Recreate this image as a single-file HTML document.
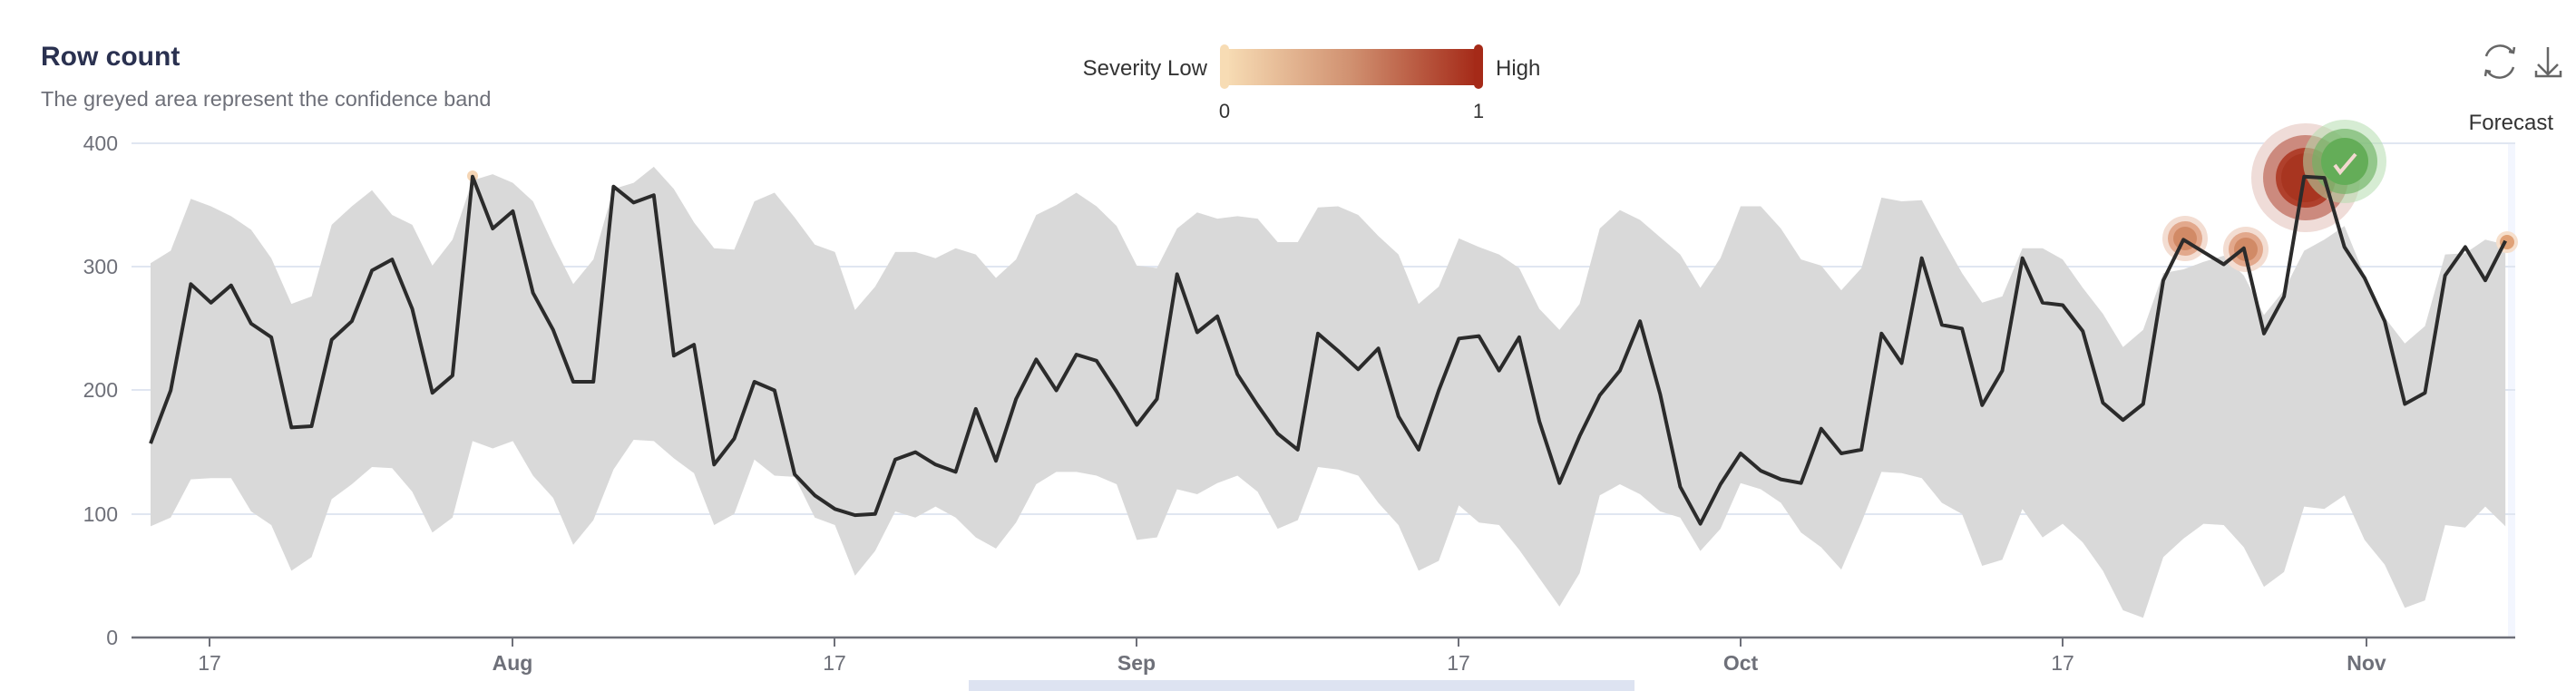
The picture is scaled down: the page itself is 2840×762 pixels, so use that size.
<!DOCTYPE html>
<html><head><meta charset="utf-8"><style>
html,body{margin:0;padding:0;background:#fff;}
svg{display:block;font-family:"Liberation Sans",sans-serif;}
</style></head><body>
<svg id="s" width="2840" height="762" viewBox="0 0 2840 762" xmlns="http://www.w3.org/2000/svg">
<defs>
<linearGradient id="g" x1="0" x2="1" y1="0" y2="0">
<stop offset="0" stop-color="#f7dcb4"/><stop offset="0.5" stop-color="#d09070"/><stop offset="1" stop-color="#a52a18"/>
</linearGradient>
</defs>
<text x="45" y="72" font-size="30" font-weight="bold" fill="#2a3150">Row count</text>
<text x="45" y="117" font-size="23.5" fill="#6e7079">The greyed area represent the confidence band</text>
<text x="1331" y="83" font-size="24" fill="#333" text-anchor="end">Severity Low</text>
<rect x="1352" y="54" width="276" height="40" fill="url(#g)"/>
<rect x="1345" y="49" width="10" height="49" rx="5" fill="#f7dcb4"/>
<rect x="1625" y="49" width="10" height="49" rx="5" fill="#a52a18"/>
<text x="1649" y="83" font-size="24" fill="#333">High</text>
<text x="1350" y="130" font-size="22" fill="#333" text-anchor="middle">0</text>
<text x="1630" y="130" font-size="22" fill="#333" text-anchor="middle">1</text>
<g fill="none" stroke="#666" stroke-width="2.5">
<path d="M2770 58 A16 16 0 0 0 2741 62 M2742 78 A16 16 0 0 0 2771 74"/>
<path d="M2766 57 L2771 58 L2772 52 M2746 79 L2741 78 L2740 84"/>
<path d="M2809 52 V82 M2798 71 L2809 82 L2820 71 M2796 78 V84 H2823 V78"/>
</g>
<text x="2815" y="143" font-size="24" fill="#333" text-anchor="end">Forecast</text>
<rect x="2765" y="158" width="8" height="545" fill="#f3f6fe"/>
<g stroke="#e0e6f1" stroke-width="2">
<line x1="145" x2="2773" y1="158" y2="158"/><line x1="145" x2="2773" y1="294" y2="294"/>
<line x1="145" x2="2773" y1="430" y2="430"/><line x1="145" x2="2773" y1="567" y2="567"/>
</g>
<path id="band" fill="#d9d9d9"/>
<g id="circ"></g>
<path id="line" fill="none" stroke="#2b2b2b" stroke-width="4" stroke-linejoin="round"/>
<line x1="145" x2="2773" y1="703" y2="703" stroke="#6e7079" stroke-width="2.5"/>
<g stroke="#6e7079" stroke-width="2">
<line x1="231" x2="231" y1="703" y2="713"/><line x1="565" x2="565" y1="703" y2="713"/>
<line x1="920" x2="920" y1="703" y2="713"/><line x1="1253" x2="1253" y1="703" y2="713"/>
<line x1="1608" x2="1608" y1="703" y2="713"/><line x1="1919" x2="1919" y1="703" y2="713"/>
<line x1="2274" x2="2274" y1="703" y2="713"/><line x1="2609" x2="2609" y1="703" y2="713"/>
</g>
<g font-size="23" fill="#6e7079" text-anchor="end">
<text x="130" y="166">400</text><text x="130" y="302">300</text><text x="130" y="438">200</text>
<text x="130" y="575">100</text><text x="130" y="711">0</text>
</g>
<g font-size="23" fill="#6e7079" text-anchor="middle">
<text x="231" y="739">17</text><text x="565" y="739" font-weight="bold">Aug</text>
<text x="920" y="739">17</text><text x="1253" y="739" font-weight="bold">Sep</text>
<text x="1608" y="739">17</text><text x="1919" y="739" font-weight="bold">Oct</text>
<text x="2274" y="739">17</text><text x="2609" y="739" font-weight="bold">Nov</text>
</g>
<rect x="1068" y="750" width="734" height="12" fill="#dde3f1"/>
</svg>
<script>
var L=[157,200,286,271,285,254,243,170,171,241,256,297,306,266,198,212,373,331,345,279,249,207,207,365,352,358,228,237,140,161,207,200,132,115,104,99,100,144,150,140,134,185,143,193,225,200,229,224,199,172,193,294,247,260,213,188,165,
152,246,232,217,234,179,152,200,242,244,216,243,175,125,163,196,216,256,197,122,92,124,149,135,128,125,169,149,152,246,222,307,253,250,188,216,307,271,269,248,190,176,189,289,322,312,302,315,246,276,373,372,316,291,256,189,198,293,316,289,321];
var U=[303,313,355,349,341,330,307,270,276,334,349,362,342,334,301,322,370,375,368,353,318,286,306,363,368,381,363,336,315,314,353,360,340,318,312,265,284,312,312,307,315,310,291,306,342,350,360,349,333,301,299,331,344,339,341,339,320,
320,348,349,342,325,310,270,284,323,316,310,299,266,249,270,331,346,338,324,310,283,307,349,349,331,306,301,281,299,356,353,354,324,295,271,276,315,315,306,283,262,235,249,295,298,304,309,293,261,281,313,322,333,293,259,238,252,310,311,322,318];
var D=[90,97,128,129,129,102,91,54,65,112,124,138,137,118,85,97,159,153,159,131,113,75,95,136,160,159,145,133,91,100,144,131,130,97,91,50,70,102,97,106,97,81,72,93,124,134,134,131,124,79,81,120,116,125,131,118,88,
95,138,136,131,109,91,54,62,107,93,91,71,48,25,52,115,124,116,102,97,70,88,125,120,109,85,73,55,93,134,133,129,109,100,58,63,104,81,92,77,54,22,16,65,80,92,91,73,41,53,106,104,115,79,59,24,30,91,89,106,90];
function X(i){return 166+22.19*i}function Y(v){return 703-v*1.3625}
var n=Math.min(L.length,U.length,D.length),p="",b="";
for(var i=0;i<n;i++){p+=(i?"L":"M")+X(i).toFixed(1)+" "+Y(L[i]).toFixed(1);b+=(i?"L":"M")+X(i).toFixed(1)+" "+Y(U[i]).toFixed(1);}
for(var i=n-1;i>=0;i--)b+="L"+X(i).toFixed(1)+" "+Y(D[i]).toFixed(1);
document.getElementById("line").setAttribute("d",p);document.getElementById("band").setAttribute("d",b+"Z");
var c=[[2542,196,[[60,"#efdcd8"],[47,"#cc8a7e"],[33,"#b0402c"],[27,"#a83520"]]],
[2585,178,[[46,"rgba(180,220,175,0.55)"],[36,"rgba(110,180,100,0.65)"],[26,"#64ad58"]]],
[2409,263,[[25,"#f3ddd2"],[19,"#e2a88c"],[13,"#d18a66"]]],
[2476,275,[[25,"#f3ddd2"],[19,"#e2a88c"],[13,"#d18a66"]]],
[2764,267,[[12,"#f6dfcc"],[8,"#e0a176"]]],[521,194,[[6,"#f5d5b5"]]]],h="";
c.forEach(function(o){o[2].forEach(function(r){h+='<circle cx="'+o[0]+'" cy="'+o[1]+'" r="'+r[0]+'" fill="'+r[1]+'"/>';});});
h+='<path d="M2574 182 L2580 190 L2597 170" stroke="#f3d8d0" stroke-width="4" fill="none"/>';
document.getElementById("circ").innerHTML=h;
</script>
</body></html>
